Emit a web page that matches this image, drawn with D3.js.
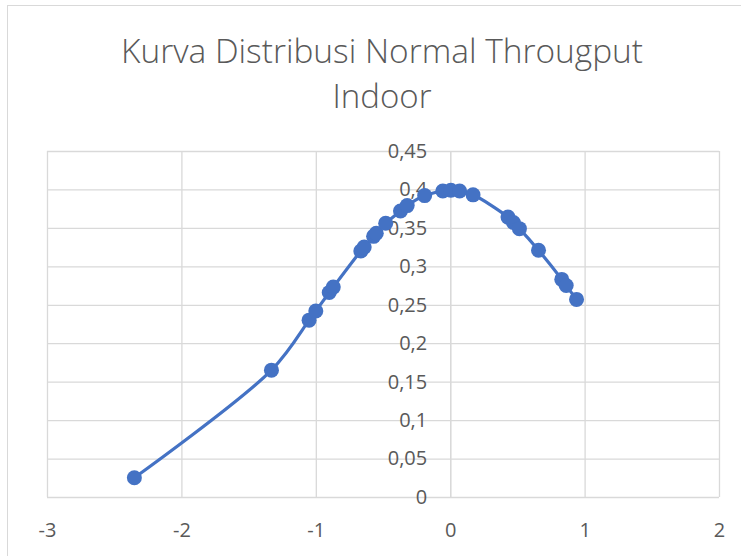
<!DOCTYPE html>
<html>
<head>
<meta charset="utf-8">
<script src="https://cdn.jsdelivr.net/npm/d3@7"></script>
<style>
  body { margin: 0; background: #fff; }
  svg { display: block; }
  .tick text { fill: #595959; font-family: "Open Sans", sans-serif; }
</style>
</head>
<body>
<svg id="chart"></svg>
<script>
// z values and normal density
const xValues = [-2.35, -1.33, -1.05, -1.00, -0.90, -0.87, -0.665, -0.64, -0.57, -0.55, -0.48,
                 -0.37, -0.32, -0.19, -0.055, 0.005, 0.07, 0.17, 0.43, 0.47, 0.515, 0.657, 0.83, 0.863, 0.94];
const yValues = [0.025, 0.165, 0.230, 0.242, 0.266, 0.273, 0.320, 0.325, 0.339, 0.343, 0.356,
                 0.372, 0.379, 0.392, 0.398, 0.399, 0.398, 0.393, 0.364, 0.357, 0.349, 0.321, 0.283, 0.275, 0.257];
const xTicks = [-3, -2, -1, 0, 1, 2];
const yTicks = [0, 0.05, 0.1, 0.15, 0.2, 0.25, 0.3, 0.35, 0.4, 0.45];

const W = 741, H = 556;
const margin = { top: 151, right: 22, bottom: 59, left: 47 };
const width = W - margin.left - margin.right;
const height = H - margin.top - margin.bottom;

const svg = d3.select('#chart').attr('width', W).attr('height', H);

// chart frame
svg.append('rect')
    .attr('x', 7.5).attr('y', 5.5)
    .attr('width', 760).attr('height', 580)
    .attr('fill', 'none').attr('stroke', '#d9d9d9');

// title
const title = svg.append('text')
    .attr('text-anchor', 'middle')
    .attr('fill', '#595959')
    .style('font-family', '"Open Sans", sans-serif')
    .style('font-weight', 300)
    .style('font-size', '33px');
title.append('tspan').attr('x', 382).attr('y', 63)
    .attr('textLength', 522).attr('lengthAdjust', 'spacingAndGlyphs')
    .text('Kurva Distribusi Normal Througput');
title.append('tspan').attr('x', 382).attr('y', 108).text('Indoor');

const g = svg.append('g').attr('transform', `translate(${margin.left},${margin.top})`);

const x = d3.scaleLinear().domain([-3, 2]).range([0, width]);
const y = d3.scaleLinear().domain([0, 0.45]).range([height, 0]);

const fmt = d => String(+d.toFixed(2)).replace('.', ',');

// grid
g.append('g')
    .attr('transform', `translate(0,${height})`)
    .call(d3.axisBottom(x).tickValues(xTicks).tickSize(-height).tickFormat(''))
    .call(a => a.select('.domain').remove())
    .call(a => a.selectAll('line').attr('stroke', '#d9d9d9').attr('stroke-width', 1.3));

g.append('g')
    .call(d3.axisLeft(y).tickValues(yTicks).tickSize(-width).tickFormat(''))
    .call(a => a.select('.domain').remove())
    .call(a => a.selectAll('line').attr('stroke', '#d9d9d9').attr('stroke-width', 1.3));

// x labels below plot
g.append('g')
    .attr('transform', `translate(0,${height})`)
    .call(d3.axisBottom(x).tickValues(xTicks).tickSize(0).tickPadding(26).tickFormat(d => d))
    .call(a => a.select('.domain').remove())
    .call(a => a.selectAll('text').style('font-size', '20px'));

// y axis at x = 0
g.append('g')
    .attr('transform', `translate(${x(0)},0)`)
    .call(d3.axisLeft(y).tickValues(yTicks).tickSize(0).tickPadding(23).tickFormat(fmt))
    .call(a => a.select('.domain').attr('stroke', '#d9d9d9').attr('stroke-width', 1.3))
    .call(a => a.selectAll('text').style('font-size', '20px'));

const pts = xValues.map((v, i) => [v, yValues[i]]);

const line = d3.line()
    .x(d => x(d[0]))
    .y(d => y(d[1]))
    .curve(d3.curveCatmullRom.alpha(0.5));

g.append('path')
    .datum(pts)
    .attr('d', line)
    .attr('fill', 'none')
    .attr('stroke', '#4472c4')
    .attr('stroke-width', 3.2);

g.selectAll('.dot')
    .data(pts)
    .enter().append('circle')
    .attr('class', 'dot')
    .attr('cx', d => x(d[0]))
    .attr('cy', d => y(d[1]))
    .attr('r', 7.5)
    .attr('fill', '#4472c4');
</script>
</body>
</html>
